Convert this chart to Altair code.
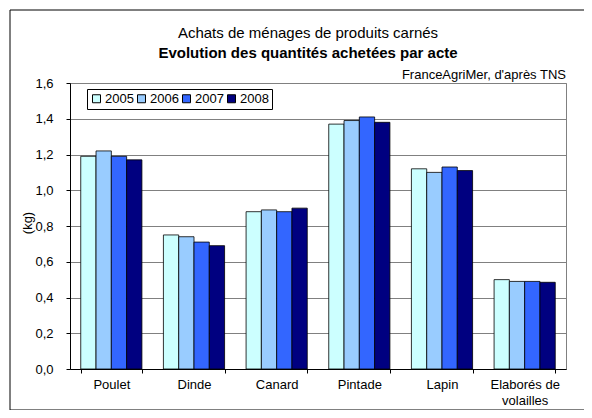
import altair as alt
import pandas as pd

categories = ["Poulet", "Dinde", "Canard", "Pintade", "Lapin", "Elaborés de volailles"]
years = ["2005", "2006", "2007", "2008"]
v2005 = [1.19, 0.75, 0.88, 1.37, 1.12, 0.50]
v2006 = [1.22, 0.74, 0.89, 1.39, 1.10, 0.49]
v2007 = [1.19, 0.71, 0.88, 1.41, 1.13, 0.49]
v2008 = [1.17, 0.69, 0.90, 1.38, 1.11, 0.485]
colors = ["#CCFFFF", "#99CCFF", "#3366FF", "#000080"]
y_ticks = [0, 0.2, 0.4, 0.6, 0.8, 1.0, 1.2, 1.4, 1.6]
title_line1 = "Achats de ménages de produits carnés"
title_line2 = "Evolution des quantités achetées par acte"
source_text = "FranceAgriMer, d'après TNS"
y_title = "(kg)"

series = {"2005": v2005, "2006": v2006, "2007": v2007, "2008": v2008}
rows = []
for y in years:
    for c, v in zip(categories, series[y]):
        rows.append({"cat": c, "year": y, "value": v})
df = pd.DataFrame(rows)

FONT = "Liberation Sans"
W, H = 496, 286
FS = 13

bars = alt.Chart(df).mark_bar(stroke="black", strokeWidth=0.8).encode(
    x=alt.X("cat:N", sort=categories,
            scale=alt.Scale(paddingInner=0.26, paddingOuter=0.13),
            axis=alt.Axis(title=None, labelAngle=0, tickBand="extent",
                          domainColor="black", tickColor="black", tickSize=4,
                          labelPadding=5, labelFontSize=FS, labelLineHeight=16,
                          labelColor="black", grid=False,
                          labelExpr="datum.label == 'Elaborés de volailles' ? ['Elaborés de', 'volailles'] : datum.label")),
    xOffset=alt.XOffset("year:N", sort=years, scale=alt.Scale(paddingInner=0, paddingOuter=0)),
    y=alt.Y("value:Q", scale=alt.Scale(domain=[0, 1.6], nice=False),
            axis=alt.Axis(title=None, values=y_ticks,
                          labelExpr="replace(format(datum.value, '.1f'), '.', ',')",
                          labelFontSize=FS, labelColor="black", labelPadding=13,
                          tickSize=4, tickColor="black", domainColor="black",
                          gridColor="#808080", gridWidth=1)),
    color=alt.Color("year:N", sort=years,
                    scale=alt.Scale(domain=years, range=colors),
                    legend=alt.Legend(title=None, orient="none", legendX=17, legendY=6,
                                      direction="horizontal", symbolType="square",
                                      symbolSize=64, symbolStrokeColor="black",
                                      symbolStrokeWidth=1, labelFontSize=FS,
                                      labelColor="black", labelOffset=2,
                                      columnPadding=1, padding=3,
                                      strokeColor="black", fillColor="white")),
)

frame = alt.Chart(pd.DataFrame({"a": [0]})).mark_rect(
    fill="white", fillOpacity=0, stroke="black", strokeWidth=1
).encode(
    x=alt.value(-60), x2=alt.value(515), y=alt.value(-73), y2=alt.value(327)
)

source = alt.Chart(pd.DataFrame({"t": [source_text]})).mark_text(
    align="right", baseline="middle", fontSize=FS, font=FONT, color="black"
).encode(x=alt.value(W), y=alt.value(-8), text="t:N")

ytitle = alt.Chart(pd.DataFrame({"t": [y_title]})).mark_text(
    align="center", baseline="middle", fontSize=FS, font=FONT, color="black", angle=270
).encode(x=alt.value(-42), y=alt.value(140), text="t:N")

t1 = alt.Chart(pd.DataFrame({"t": [title_line1]})).mark_text(
    align="center", baseline="middle", fontSize=15, font=FONT, color="black"
).encode(x=alt.value(238), y=alt.value(-50), text="t:N")

t2 = alt.Chart(pd.DataFrame({"t": [title_line2]})).mark_text(
    align="center", baseline="middle", fontSize=15, fontWeight="bold", font=FONT, color="black"
).encode(x=alt.value(238), y=alt.value(-30), text="t:N")

chart = alt.layer(frame, bars, source, ytitle, t1, t2).properties(
    width=W, height=H,
    autosize=alt.AutoSizeParams(type="none"),
    padding={"left": 62, "top": 75, "right": 18, "bottom": 41},
).configure(font=FONT, background="white").configure_view(
    stroke="#808080", strokeWidth=1
).configure_axis(labelFont=FONT, titleFont=FONT).configure_legend(labelFont=FONT)

chart.save("out.html", embed_options={"renderer": "svg", "actions": False})
